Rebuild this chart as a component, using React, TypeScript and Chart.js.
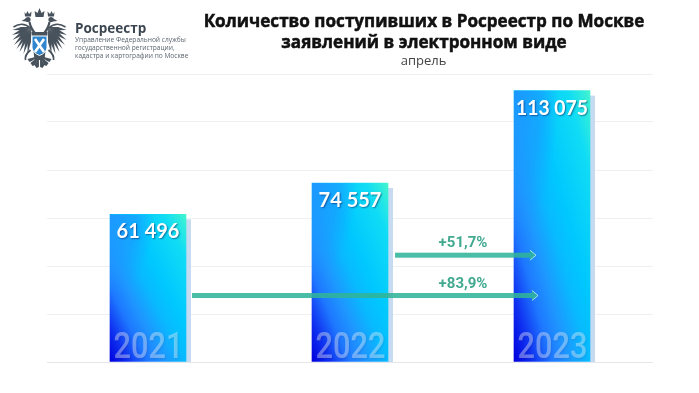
import React, { useEffect, useRef } from "react";
import { Chart, registerables } from "chart.js";

Chart.register(...registerables);

const categories = ["2021", "2022", "2023"];
const values = [61496, 74557, 113075];
const valueLabels = ["61 496", "74 557", "113 075"];
const titleLines = ["Количество поступивших в Росреестр по Москве", "заявлений в электронном виде"];
const subtitle = "апрель";
const brand = "Росреестр";
const brandLines = ["Управление Федеральной службы", "государственной регистрации,", "кадастра и картографии по Москве"];
const arrowLabels = ["+51,7%", "+83,9%"];
const arrowLevels = [44500, 27700];
const arrowFrom = [0.223, -0.782];
const arrowTo = [0.921, 0.931];
const arrowFromCat = [1, 1];

function barGradient(chart: any, i: number) {
  const { x, y } = chart.scales;
  const cx = x.getPixelForValue(i);
  const top = y.getPixelForValue(values[i]);
  const bot = y.getPixelForValue(0);
  const w = 76;
  const h = bot - top;
  const len = Math.hypot(w, h);
  const dx = h / len;
  const dy = -w / len;
  const e = (w * h) / len;
  const my = (top + bot) / 2;
  const g = chart.ctx.createLinearGradient(cx - dx * e, my - dy * e, cx + dx * e, my + dy * e);
  g.addColorStop(0, "#0000dc");
  g.addColorStop(0.12, "#0f30f0");
  g.addColorStop(0.25, "#1e78ff");
  g.addColorStop(0.36, "#1e96ff");
  g.addColorStop(0.5, "#08baff");
  g.addColorStop(0.62, "#00c8ff");
  g.addColorStop(0.85, "#10dcf5");
  g.addColorStop(0.95, "#30ecdc");
  g.addColorStop(1, "#46f5cd");
  return g;
}

function drawBarSheen(chart: any) {
  const { ctx } = chart;
  const { x, y } = chart.scales;
  values.forEach((v, i) => {
    const cx = x.getPixelForValue(i);
    const top = y.getPixelForValue(v);
    const bot = y.getPixelForValue(0);
    const l = cx - 38;
    const h = bot - top;
    ctx.save();
    ctx.beginPath();
    ctx.rect(l, top, 76, h);
    ctx.clip();
    ctx.translate(l, top);
    ctx.scale(1, (h * 0.55) / 45);
    const g = ctx.createRadialGradient(0, 0, 0, 0, 0, 45);
    g.addColorStop(0, "rgba(30,150,255,0.95)");
    g.addColorStop(0.6, "rgba(30,150,255,0.6)");
    g.addColorStop(1, "rgba(30,150,255,0)");
    ctx.fillStyle = g;
    ctx.fillRect(0, 0, 76, 45);
    ctx.restore();
  });
}

const shadowPlugin = {
  id: "barShadow",
  beforeDatasetsDraw(chart: any) {
    const { ctx } = chart;
    const { x, y } = chart.scales;
    ctx.save();
    ctx.fillStyle = "#c6daf1";
    values.forEach((v, i) => {
      const cx = x.getPixelForValue(i);
      const top = y.getPixelForValue(v);
      ctx.fillRect(cx + 38, top + 5, 5, y.getPixelForValue(0) - top - 5);
    });
    ctx.restore();
  },
};

function drawEmblem(ctx: CanvasRenderingContext2D) {
  ctx.save();
  ctx.translate(39.5, 0);
  const ink = "#47525c";
  const wing = (s: number) => {
    ctx.save();
    ctx.scale(s, 1);
    ctx.fillStyle = ink;
    const tips = [
      [27, 30], [27.5, 35], [27, 40], [25.5, 45], [23, 49], [20, 52], [16, 54], [12, 54],
    ];
    tips.forEach(([tx, ty]) => {
      const a = Math.atan2(ty - 27, tx - 8);
      const nx = -Math.sin(a) * 1.7;
      const ny = Math.cos(a) * 1.7;
      const mx = 8 + (tx - 8) * 0.55;
      const my = 27 + (ty - 27) * 0.55;
      ctx.beginPath();
      ctx.moveTo(8, 27);
      ctx.lineTo(mx + nx, my + ny);
      ctx.lineTo(tx, ty);
      ctx.lineTo(mx - nx, my - ny);
      ctx.closePath();
      ctx.fill();
    });
    ctx.strokeStyle = ink;
    ctx.lineWidth = 1.6;
    ctx.beginPath();
    ctx.moveTo(9, 28);
    ctx.quadraticCurveTo(17, 21, 26, 27);
    ctx.stroke();
    ctx.lineWidth = 2.2;
    ctx.beginPath();
    ctx.moveTo(4, 34);
    ctx.quadraticCurveTo(9, 28, 10, 22);
    ctx.stroke();
    ctx.beginPath();
    ctx.arc(11.5, 19.5, 2.6, 0, Math.PI * 2);
    ctx.fill();
    ctx.beginPath();
    ctx.moveTo(13, 18);
    ctx.lineTo(18, 21);
    ctx.lineTo(13, 21.5);
    ctx.closePath();
    ctx.fill();
    ctx.beginPath();
    ctx.moveTo(8.5, 16.5);
    ctx.lineTo(8, 11.5);
    ctx.lineTo(10.5, 14);
    ctx.lineTo(12, 11);
    ctx.lineTo(13.5, 14);
    ctx.lineTo(15, 12);
    ctx.lineTo(14.5, 16.5);
    ctx.closePath();
    ctx.fill();
    [[3, 68], [7, 66], [10, 62]].forEach(([tx, ty]) => {
      ctx.beginPath();
      ctx.moveTo(0.5, 56);
      ctx.lineTo(tx + 2, ty - 3);
      ctx.lineTo(tx, ty);
      ctx.lineTo(tx - 2.4, ty - 1);
      ctx.closePath();
      ctx.fill();
    });
    ctx.lineWidth = 1.8;
    ctx.beginPath();
    ctx.moveTo(9, 50);
    ctx.quadraticCurveTo(15, 55, 14, 60);
    ctx.stroke();
    ctx.restore();
  };
  wing(1);
  wing(-1);
  ctx.fillStyle = ink;
  ctx.beginPath();
  ctx.moveTo(-4, 17);
  ctx.lineTo(-5, 11);
  ctx.lineTo(-2, 13);
  ctx.lineTo(0, 8);
  ctx.lineTo(2, 13);
  ctx.lineTo(5, 11);
  ctx.lineTo(4, 17);
  ctx.closePath();
  ctx.fill();
  ctx.beginPath();
  ctx.moveTo(-8, 32);
  ctx.lineTo(8, 32);
  ctx.lineTo(5, 60);
  ctx.lineTo(-5, 60);
  ctx.closePath();
  ctx.fill();
  ctx.fillStyle = "#2f86cf";
  ctx.strokeStyle = "#ffffff";
  ctx.lineWidth = 1;
  ctx.beginPath();
  ctx.moveTo(-7.5, 36);
  ctx.lineTo(7.5, 36);
  ctx.lineTo(7.5, 48);
  ctx.quadraticCurveTo(6.5, 53, 0, 55.5);
  ctx.quadraticCurveTo(-6.5, 53, -7.5, 48);
  ctx.closePath();
  ctx.fill();
  ctx.stroke();
  ctx.strokeStyle = "#ffffff";
  ctx.lineWidth = 2.6;
  ctx.beginPath();
  ctx.moveTo(-4.5, 39);
  ctx.lineTo(4.5, 52);
  ctx.moveTo(4.5, 39);
  ctx.lineTo(-4.5, 52);
  ctx.stroke();
  ctx.restore();
}

function drawArrow(ctx: CanvasRenderingContext2D, x0: number, x1: number, y: number) {
  ctx.save();
  ctx.fillStyle = "rgba(48,180,152,0.88)";
  ctx.fillRect(x0, y - 2.5, x1 - x0 - 6, 5);
  ctx.beginPath();
  ctx.moveTo(x1 - 6, y - 5);
  ctx.lineTo(x1, y);
  ctx.lineTo(x1 - 6, y + 5);
  ctx.closePath();
  ctx.fill();
  ctx.strokeStyle = "#c4f2ee";
  ctx.lineWidth = 0.8;
  ctx.beginPath();
  ctx.moveTo(x1 - 6, y - 5);
  ctx.lineTo(x1, y);
  ctx.lineTo(x1 - 6, y + 5);
  ctx.stroke();
  ctx.restore();
}

const textPlugin = {
  id: "overlayText",
  afterDatasetsDraw(chart: any) {
    const { ctx } = chart;
    const { x, y } = chart.scales;
    drawBarSheen(chart);
    ctx.save();
    ctx.textAlign = "center";
    ctx.textBaseline = "alphabetic";
    values.forEach((v, i) => {
      const cx = x.getPixelForValue(i);
      const top = y.getPixelForValue(v);
      ctx.save();
      ctx.fillStyle = "rgba(255,255,255,0.37)";
      ctx.shadowColor = "rgba(0,0,60,0.25)";
      ctx.shadowBlur = 2;
      ctx.shadowOffsetX = 1;
      ctx.shadowOffsetY = 1;
      ctx.font = '500 36px "Roboto"';
      ctx.fillText(categories[i], cx + 0.5, y.getPixelForValue(0) - 4, 70);
      ctx.restore();
      ctx.save();
      ctx.fillStyle = "#ffffff";
      ctx.shadowColor = "rgba(0,0,60,0.45)";
      ctx.shadowBlur = 1.5;
      ctx.shadowOffsetX = 1;
      ctx.shadowOffsetY = 1;
      ctx.font = 'bold 20px "Lato"';
      ctx.fillText(valueLabels[i], cx, top + 24, 72);
      ctx.restore();
    });
    const unit = x.getPixelForValue(1) - x.getPixelForValue(0);
    arrowLevels.forEach((lv, i) => {
      const base = x.getPixelForValue(arrowFromCat[i]);
      const yy = y.getPixelForValue(lv);
      drawArrow(ctx, base + arrowFrom[i] * unit, base + arrowTo[i] * unit, yy);
      ctx.fillStyle = "#41a98f";
      ctx.font = 'bold 15px "Roboto"';
      ctx.fillText(arrowLabels[i], 463, yy - 8);
    });
    ctx.restore();

    ctx.save();
    drawEmblem(ctx);
    ctx.textAlign = "left";
    ctx.fillStyle = "#3c4650";
    ctx.font = 'bold 13.5px "Open Sans"';
    ctx.fillText(brand, 75, 32.5);
    ctx.fillStyle = "#5c6670";
    ctx.font = '6.6px "Open Sans"';
    brandLines.forEach((t, i) => ctx.fillText(t, 75, 42 + i * 8));
    ctx.textAlign = "center";
    ctx.fillStyle = "#111111";
    ctx.strokeStyle = "#111111";
    ctx.lineWidth = 0.5;
    ctx.font = 'bold 17.1px "Open Sans"';
    titleLines.forEach((t, i) => {
      ctx.fillText(t, 424, 27 + i * 21);
      ctx.strokeText(t, 424, 27 + i * 21);
    });
    ctx.fillStyle = "#444444";
    ctx.font = '13px "Open Sans"';
    ctx.fillText(subtitle, 423.5, 64.5);
    ctx.restore();
  },
};

export default function App() {
  const ref = useRef<HTMLCanvasElement>(null);
  useEffect(() => {
    const chart = new Chart(ref.current!, {
      type: "bar",
      data: {
        labels: categories,
        datasets: [
          {
            data: values,
            barThickness: 76,
            backgroundColor: (c: any) => (c.chart.chartArea ? barGradient(c.chart, c.dataIndex) : "#1e96ff"),
          },
        ],
      },
      options: {
        responsive: false,
        animation: false,
        layout: { padding: { left: 47, right: 46, top: 74, bottom: 31 } },
        plugins: { legend: { display: false }, tooltip: { enabled: false } },
        scales: {
          x: { display: false },
          y: {
            min: 0,
            max: 120000,
            ticks: { display: false, stepSize: 20000 },
            border: { display: false },
            grid: { color: (c: any) => (c.tick && c.tick.value === 0 ? "#e4e6ea" : "#eff0f2"), lineWidth: 1, drawTicks: false },
          },
        },
      },
      plugins: [shadowPlugin, textPlugin],
    } as any);
    return () => chart.destroy();
  }, []);
  return (
    <div style={{ position: "fixed", left: 0, top: 0, width: 699, height: 393, background: "#fff" }}>
      <canvas ref={ref} width={699} height={393} style={{ display: "block" }} />
    </div>
  );
}
